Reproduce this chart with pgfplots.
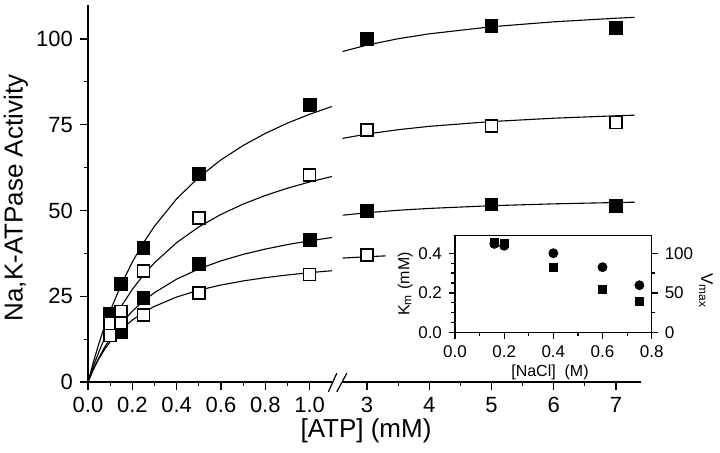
\documentclass[border=0pt]{standalone}
\usepackage{fontspec}
\setmainfont{Liberation Sans}
\usepackage{pgfplots}
\pgfplotsset{compat=1.18}
\pgfplotsset{
  mainax/.style={scale only axis, height=188.65pt, ymin=0, ymax=110, anchor=south west,
    tick align=outside, major tick length=4pt, minor tick length=2pt,
    axis line style={line width=0.6pt}, every tick/.style={line width=0.6pt, black},
    ticklabel style={font=\fontsize{11}{12}\selectfont},
    /pgf/number format/assume math mode=true},
  fcurve/.style={black, line width=0.55pt, no marks},
  fill sq/.style={only marks, mark=square*, mark size=3.2pt, mark options={fill=black, draw=black}},
  open sq/.style={only marks, mark=square*, mark size=3.0pt, mark options={fill=white, draw=black, line width=0.8pt}},
}
\begin{document}
\begin{tikzpicture}
\path[use as bounding box] (0pt,0pt) rectangle (360pt,-226pt);
% left part of the broken axis
\begin{axis}[mainax, at={(44pt,-191pt)}, width=121.9pt, xmin=0, xmax=1.1,
  axis x line*=bottom, axis y line*=left,
  xtick={0,0.2,0.4,0.6,0.8,1.0}, xticklabels={0.0,0.2,0.4,0.6,0.8,1.0}, minor x tick num=1,
  ytick={0,25,50,75,100}, minor y tick num=1]
\addplot[fill sq] coordinates {(0.1,20.0) (0.15,28.6) (0.25,39.1) (0.5,60.6) (1.0,80.8)};
\addplot[fill sq] coordinates {(0.1,15.4) (0.15,14.6) (0.25,24.6) (0.5,34.5) (1.0,41.4)};
\addplot[open sq] coordinates {(0.1,17.1) (0.15,20.6) (0.25,32.3) (0.5,47.8) (1.0,60.3)};
\addplot[open sq] coordinates {(0.1,13.6) (0.15,17.2) (0.25,19.6) (0.5,25.9) (1.0,31.4)};
\addplot[fcurve] coordinates {(0,0) (0.025,6.00) (0.05,11.39) (0.075,16.27) (0.1,20.70) (0.15,28.44) (0.2,34.98) (0.25,40.58) (0.3,45.42) (0.4,53.40) (0.5,59.68) (0.6,64.77) (0.7,68.96) (0.8,72.48) (0.9,75.48) (1.0,78.06) (1.1,80.31)};
\addplot[fcurve] coordinates {(0,0) (0.025,4.74) (0.05,8.96) (0.075,12.74) (0.1,16.15) (0.15,22.06) (0.2,27.00) (0.25,31.18) (0.3,34.78) (0.4,40.64) (0.5,45.21) (0.6,48.87) (0.7,51.87) (0.8,54.38) (0.9,56.50) (1.0,58.32) (1.1,59.90)};
\addplot[fcurve] coordinates {(0,0) (0.025,3.85) (0.05,7.19) (0.075,10.12) (0.1,12.71) (0.15,17.09) (0.2,20.64) (0.25,23.58) (0.3,26.05) (0.4,29.99) (0.5,32.97) (0.6,35.32) (0.7,37.21) (0.8,38.76) (0.9,40.06) (1.0,41.17) (1.1,42.12)};
\addplot[fcurve] coordinates {(0,0) (0.025,3.77) (0.05,6.89) (0.075,9.50) (0.1,11.73) (0.15,15.31) (0.2,18.07) (0.25,20.27) (0.3,22.05) (0.4,24.78) (0.5,26.77) (0.6,28.28) (0.7,29.47) (0.8,30.42) (0.9,31.21) (1.0,31.88) (1.1,32.44)};
\end{axis}
% right part of the broken axis
\begin{axis}[mainax, at={(171.05pt,-191pt)}, width=149.4pt, xmin=2.6, xmax=7.4,
  axis x line*=bottom, axis y line=none,
  xtick={3,4,5,6,7}, minor x tick num=1]
\addplot[fill sq] coordinates {(3,100.0) (5,103.9) (7,103.3)};
\addplot[fill sq] coordinates {(3,49.9) (5,51.8) (7,51.3)};
\addplot[open sq] coordinates {(3,73.5) (5,74.7) (7,75.7)};
\addplot[open sq] coordinates {(3,37.0)};
\addplot[fcurve] coordinates {(2.61,96.37) (3,98.23) (3.5,100.08) (4,101.51) (5,103.58) (6,105.01) (7,106.06) (7.3,106.32)};
\addplot[fcurve] coordinates {(2.61,71.03) (3,72.30) (3.5,73.56) (4,74.54) (5,75.94) (6,76.91) (7,77.62) (7.3,77.80)};
\addplot[fcurve] coordinates {(2.61,48.63) (3,49.35) (3.5,50.07) (4,50.61) (5,51.40) (6,51.94) (7,52.33) (7.3,52.42)};
\addplot[fcurve] coordinates {(2.61,36.13) (3,36.53) (3.3,36.77)};
\end{axis}
% break marks
\draw[line width=0.6pt] (164.2pt,-195.9pt) -- (168.4pt,-186.6pt);
\draw[line width=0.6pt] (168.4pt,-195.9pt) -- (173.4pt,-186.6pt);
% main axis labels
\node[rotate=90, font=\fontsize{13}{15}\selectfont] at (8pt,-99pt) {Na,K-ATPase Activity};
\node[font=\fontsize{13}{15}\selectfont] at (183pt,-215.5pt) {[ATP] (mM)};
% inset: Km
\begin{axis}[at={(227.5pt,-166.35pt)}, anchor=south west, scale only axis,
  width=98.35pt, height=48.7pt, xmin=0, xmax=0.8, ymin=0, ymax=0.49,
  xtick={0,0.2,0.4,0.6,0.8}, xticklabels={0.0,0.2,0.4,0.6,0.8}, minor x tick num=1,
  ytick={0,0.2,0.4}, yticklabels={0.0,0.2,0.4}, minor y tick num=3,
  xtick pos=bottom, ytick pos=left, tick align=outside,
  major tick length=3pt, minor tick length=1.8pt,
  axis line style={line width=0.6pt}, every tick/.style={line width=0.6pt, black},
  axis background/.style={fill=white},
  ticklabel style={font=\fontsize{8.5}{9}\selectfont},
  /pgf/number format/assume math mode=true,
  ylabel={K\textsubscript{m} (mM)},
  label style={font=\fontsize{8}{9}\selectfont},
  ylabel style={yshift=-4pt}]
\addplot[only marks, mark=square*, mark size=2pt, mark options={fill=black,draw=black}] coordinates {(0.16,0.455) (0.2,0.450) (0.4,0.327) (0.6,0.219) (0.75,0.156)};
\end{axis}
% inset: Vmax
\begin{axis}[at={(227.5pt,-166.35pt)}, anchor=south west, scale only axis,
  width=98.35pt, height=48.7pt, xmin=0, xmax=0.8, ymin=0, ymax=122.5,
  axis x line=none, axis y line*=right,
  ytick={0,50,100}, minor y tick num=1, tick align=outside,
  major tick length=3pt, minor tick length=1.8pt,
  axis line style={line width=0.6pt}, every tick/.style={line width=0.6pt, black},
  ticklabel style={font=\fontsize{8.5}{9}\selectfont},
  /pgf/number format/assume math mode=true]
\addplot[only marks, mark=*, mark size=2.25pt, mark options={fill=black,draw=black}] coordinates {(0.16,111.7) (0.2,109.3) (0.4,100.0) (0.6,82.4) (0.75,59.7)};
\end{axis}
\node[font=\fontsize{8}{9}\selectfont] at (275pt,-186.3pt) {[NaCl]\ \ (M)};
\node[rotate=-90, font=\fontsize{8.5}{9}\selectfont] at (353pt,-145.5pt) {V\textsubscript{max}};
\end{tikzpicture}
\end{document}
